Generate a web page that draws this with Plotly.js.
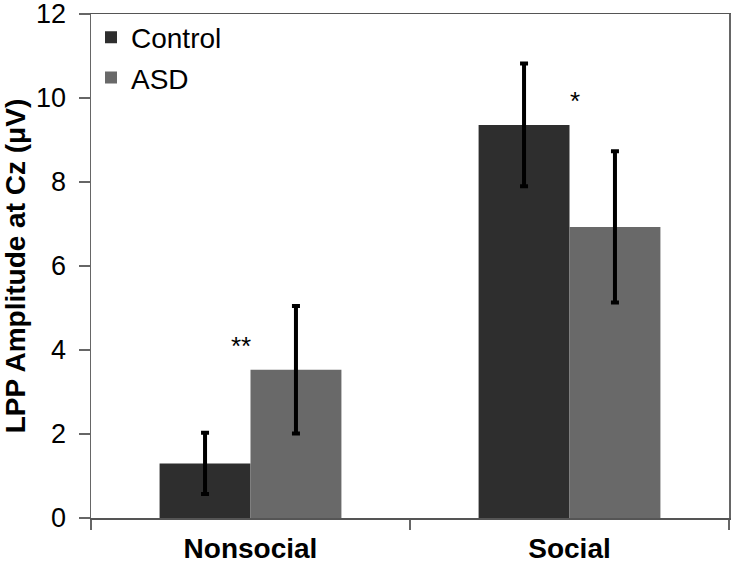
<!DOCTYPE html>
<html>
<head>
<meta charset="utf-8">
<script src="https://cdn.plot.ly/plotly-3.0.1.min.js"></script>
<style>html,body{margin:0;padding:0;background:#fff;}#chart{width:733px;height:567px;}</style>
</head>
<body>
<div id="chart"></div>
<script>
const categories = ["Nonsocial", "Social"];
const controlValues = [1.30, 9.36];
const controlErrors = [0.73, 1.46];
const asdValues = [3.53, 6.93];
const asdErrors = [1.52, 1.80];
const yTicks = [0, 2, 4, 6, 8, 10, 12];
const sigLabels = ["**", "*"];
const sigY = [4.1, 9.93];

const font = "Liberation Sans, Arial, sans-serif";

const traces = [
  {
    type: "bar", name: "Control", x: categories, y: controlValues,
    marker: {color: "#2e2e2e"}, legendgroup: "c",
    error_y: {type: "data", array: controlErrors, visible: true, color: "#000", thickness: 4, width: 4}
  },
  {
    type: "bar", name: "ASD", x: categories, y: asdValues,
    marker: {color: "#696969"}, legendgroup: "a",
    error_y: {type: "data", array: asdErrors, visible: true, color: "#000", thickness: 4, width: 4}
  }
];

const layout = {
  width: 733, height: 567,
  margin: {l: 91, r: 4, t: 14, b: 49},
  paper_bgcolor: "#fff", plot_bgcolor: "#fff",
  font: {family: font, color: "#000"},
  barmode: "group", bargap: 0.43, bargroupgap: 0,
  showlegend: true,
  legend: {x: 0.0, y: 1.003, xanchor: "left", yanchor: "top", bgcolor: "rgba(0,0,0,0)",
           font: {size: 28, family: font}, traceorder: "grouped", tracegroupgap: 1,
           itemwidth: 30},
  xaxis: {
    type: "category", showline: true, linecolor: "#555", linewidth: 1.5, mirror: true,
    ticks: "outside", ticklen: 10, tickcolor: "#666", tickwidth: 1.5,
    tickson: "boundaries", showgrid: false, ticklabelstandoff: 5,
    tickfont: {size: 28, family: font, weight: "bold"},
    range: [-0.5, 1.5]
  },
  yaxis: {
    range: [0, 12], tickvals: yTicks, ticktext: yTicks.map(String),
    showline: true, linecolor: "#666", linewidth: 1.5, mirror: true,
    ticks: "outside", ticklen: 11, tickcolor: "#666", tickwidth: 1.5,
    showgrid: false, zeroline: false, ticklabelstandoff: 7,
    ticklabeloverflow: "allow",
    tickfont: {size: 27, family: font},
    title: {text: "LPP Amplitude at Cz (μV)", font: {size: 28, family: font, weight: "bold"}, standoff: 10}
  },
  annotations: categories.map((c, i) => ({
    x: c, y: sigY[i], xref: "x", yref: "y", text: sigLabels[i], showarrow: false,
    xshift: i === 0 ? -10 : 5, font: {size: 26, family: font}
  }))
};

Plotly.newPlot("chart", traces, layout, {staticPlot: true, displayModeBar: false});
</script>
</body>
</html>
